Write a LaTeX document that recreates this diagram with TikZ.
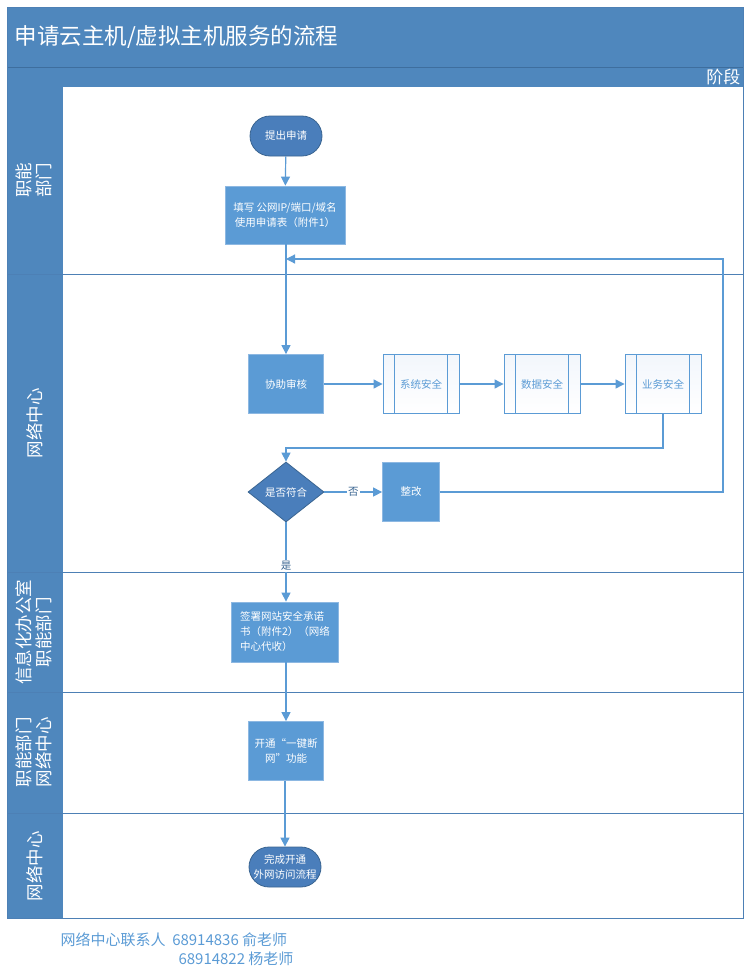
\documentclass[tikz,border=0pt]{standalone}
\usepackage{fontspec}
\newfontfamily\cjk{Noto Sans CJK SC}
\usetikzlibrary{shapes.geometric,shapes.misc,arrows.meta}
\definecolor{barblue}{HTML}{4F87BD}
\definecolor{barline}{HTML}{3E6E9E}
\definecolor{nodeblue}{HTML}{5B9BD5}
\definecolor{nodeedge}{HTML}{8DB8E2}
\definecolor{darkblue}{HTML}{4A7EBB}
\definecolor{darkedge}{HTML}{3A6591}
\definecolor{lineblue}{HTML}{5B9BD5}
\definecolor{laneline}{HTML}{4D80B5}
\definecolor{paleblue}{HTML}{F2F6FC}
\begin{document}
\begin{tikzpicture}[x=1pt,y=-1pt,
  txt/.style={font=\cjk\fontsize{10.5}{15}\selectfont, align=center},
  proc/.style={txt, rectangle, fill=nodeblue, draw=nodeedge, line width=0.8pt, text=white, minimum width=75pt, minimum height=59pt, inner sep=2pt},
  term/.style={txt, rounded rectangle, fill=darkblue, draw=darkedge, line width=0.8pt, text=white, minimum width=76pt, minimum height=40pt, inner sep=2pt},
  pre/.style={txt, rectangle, top color=paleblue, bottom color=white, draw=lineblue, line width=0.9pt, text=nodeblue, minimum width=76pt, minimum height=59pt, inner sep=0pt},
  dec/.style={txt, diamond, fill=darkblue, draw=darkedge, line width=0.8pt, text=white, minimum width=76pt, minimum height=60pt, inner sep=0pt, aspect=1.27},
  conn/.style={draw=lineblue, line width=1.2pt},
  arr/.style={conn, -{Triangle[length=9pt,width=9pt]}},
  lanelbl/.style={font=\cjk\fontsize{17.5}{20}\selectfont, text=white, rotate=90, align=center},
  lbl/.style={txt, text=darkedge, fill=white, inner sep=1pt}
]
\useasboundingbox (0,0) rectangle (750,972);
% frame and bars
\fill[white] (7,87) rectangle (743,918);
\fill[barblue] (7,7) rectangle (743,87);
\draw[barline, line width=1pt] (7,67) -- (743,67);
\fill[barblue] (7,87) rectangle (63,918);
\draw[laneline, line width=1pt] (7,7) rectangle (743,918);
\foreach \yy in {274,572,692,813} \draw[laneline, line width=1pt] (7,\yy) -- (743,\yy);
\node[anchor=west, text=white, font=\cjk\fontsize{22.5}{26}\selectfont] (title) at (11,37) {申请云主机/虚拟主机服务的流程};
\node[anchor=east, text=white, font=\cjk\fontsize{17}{19}\selectfont] (stage) at (744,77) {阶段};
% lane labels
\node[lanelbl] (L1) at (34,180) {职能\\部门};
\node[lanelbl] (L2) at (35,423) {网络中心};
\node[lanelbl] (L3) at (34,632) {信息化办公室\\职能部门};
\node[lanelbl] (L4) at (34,752) {职能部门\\网络中心};
\node[lanelbl] (L5) at (35,866) {网络中心};
% nodes
\node[term] (start) at (286,136) {提出申请};
\node[proc, minimum width=120pt, minimum height=58pt] (fill) at (285,215) {填写 公网IP/端口/域名\\使用申请表（附件1）};
\node[proc] (audit) at (286,384) {协助审核};
\node[pre] (s1) at (421,384) {系统安全};
\node[pre] (s2) at (542,384) {数据安全};
\node[pre] (s3) at (663,384) {业务安全};
\foreach \n in {s1,s2,s3}{
  \draw[lineblue, line width=0.9pt] ([xshift=12pt]\n.north west) -- ([xshift=12pt]\n.south west);
  \draw[lineblue, line width=0.9pt] ([xshift=-12pt]\n.north east) -- ([xshift=-12pt]\n.south east);
}
\node[dec] (dia) at (286,492) {是否符合};
\node[proc, minimum width=57pt] (fix) at (411,492) {整改};
\node[proc, minimum width=107pt, minimum height=60pt, align=left] (sign) at (285,632) {签署网站安全承诺\\书（附件2）（网络\\中心代收）};
\node[proc] (open) at (286,751) {开通“一键断\\网”功能};
\node[term] (done) at (285,867) {完成开通\\外网访问流程};
% connectors
\coordinate (j) at (286,259);
\coordinate (r1) at (723,492);
\coordinate (r2) at (723,259);
\coordinate (k1) at (663,448);
\coordinate (k2) at (286,448);
\draw[arr] (start) -- (fill);
\draw[arr] (fill.south -| audit.north) -- (audit.north);
\draw[arr] (audit) -- (s1);
\draw[arr] (s1) -- (s2);
\draw[arr] (s2) -- (s3);
\draw[arr] (s3.south) -- (k1) -- (k2) -- (dia.north);
\draw[arr] (dia.east) -- node[lbl] (no) {否} (fix.west);
\draw[arr] (fix.east) -- (r1) -- (r2) -- (j);
\draw[arr] (dia.south) -- node[lbl, pos=0.55] (yes) {是} (sign.north -| dia.south);
\draw[arr] (sign.south -| open.north) -- (open.north);
\draw[arr] (open.south -| done.north) -- (done.north);
% footer
\node[anchor=west, text=nodeblue, font=\cjk\fontsize{15}{17}\selectfont] (f1) at (57,940) {网络中心联系人\ \ 68914836 俞老师};
\node[anchor=west, text=nodeblue, font=\cjk\fontsize{15}{17}\selectfont] (f2) at (175,959) {68914822 杨老师};
\end{tikzpicture}
\end{document}
